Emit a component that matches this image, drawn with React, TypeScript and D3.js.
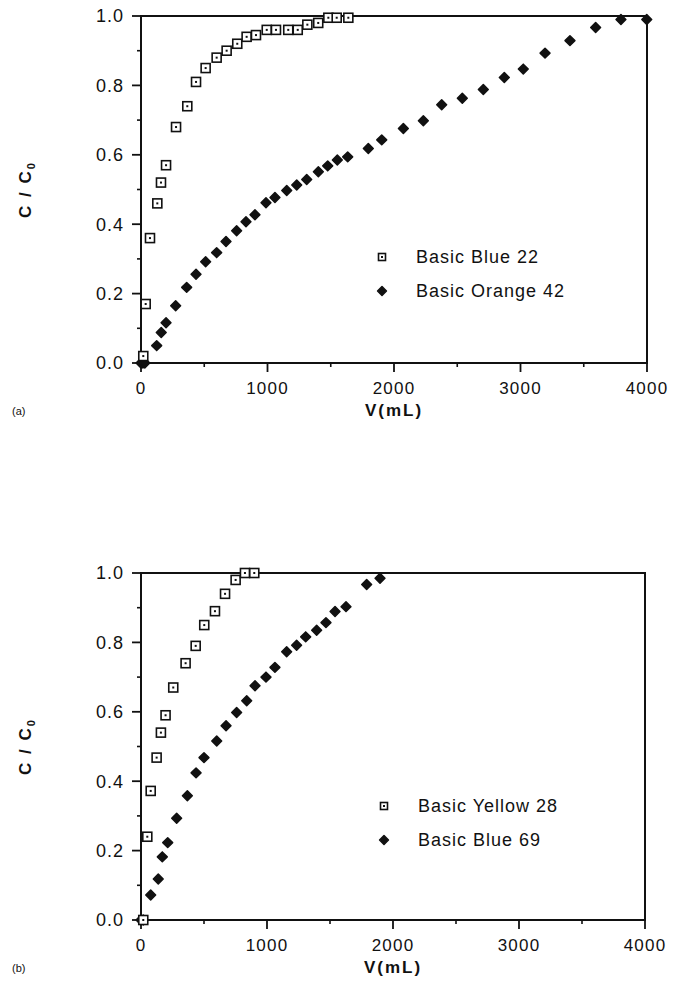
import React from "react";
import * as d3 from "d3";

// ---- Data (a) ----
const blue22V = [18, 37, 71, 129, 158, 198, 277, 366, 435, 511, 598, 677, 761, 835, 909, 994, 1067, 1164, 1239, 1315, 1401, 1481, 1547, 1639];
const blue22C = [0.02, 0.17, 0.36, 0.46, 0.52, 0.57, 0.68, 0.74, 0.81, 0.85, 0.88, 0.9, 0.92, 0.94, 0.945, 0.96, 0.96, 0.96, 0.96, 0.975, 0.98, 0.995, 0.995, 0.995];
const orange42V = [0, 15, 30, 124, 160, 198, 274, 361, 435, 511, 598, 672, 756, 830, 901, 988, 1059, 1152, 1231, 1310, 1402, 1476, 1552, 1634, 1797, 1903, 2074, 2232, 2377, 2540, 2706, 2872, 3022, 3194, 3391, 3594, 3794, 3998];
const orange42C = [0, 0, 0, 0.05, 0.088, 0.116, 0.165, 0.218, 0.256, 0.292, 0.318, 0.35, 0.381, 0.407, 0.427, 0.462, 0.477, 0.497, 0.513, 0.529, 0.551, 0.568, 0.585, 0.594, 0.618, 0.643, 0.676, 0.698, 0.744, 0.763, 0.788, 0.823, 0.847, 0.893, 0.929, 0.967, 0.99, 0.99];

// ---- Data (b) ----
const yellow28V = [18, 50, 77, 124, 158, 195, 256, 354, 434, 502, 587, 667, 751, 825, 899];
const yellow28C = [0, 0.24, 0.372, 0.468, 0.54, 0.59, 0.67, 0.74, 0.79, 0.85, 0.89, 0.94, 0.98, 1.0, 1.0];
const blue69V = [0, 18, 77, 137, 169, 212, 283, 368, 437, 500, 601, 675, 759, 839, 905, 992, 1063, 1156, 1235, 1307, 1394, 1468, 1540, 1627, 1791, 1897];
const blue69C = [0, 0, 0.072, 0.118, 0.182, 0.223, 0.293, 0.358, 0.424, 0.468, 0.516, 0.56, 0.598, 0.632, 0.675, 0.7, 0.728, 0.773, 0.792, 0.816, 0.835, 0.857, 0.889, 0.903, 0.967, 0.985];

const xMajor = [0, 1000, 2000, 3000, 4000];
const xMinor = [500, 1500, 2500, 3500];
const yMajor = [0, 0.2, 0.4, 0.6, 0.8, 1.0];
const yMinor = [0.1, 0.3, 0.5, 0.7, 0.9];

const FONT = "'Liberation Sans', Arial, Helvetica, sans-serif";
const INK = "#111";

type Panel = {
  tag: string;
  x0: number; x1: number; yTop: number; yBot: number;
  sq: { v: number[]; c: number[]; name: string };
  di: { v: number[]; c: number[]; name: string };
  legX: number; legY: number;
};

function Square({ x, y, s }: { x: number; y: number; s: number }) {
  return (
    <g>
      <rect x={x - s / 2} y={y - s / 2} width={s} height={s} fill="#fff" stroke={INK} strokeWidth={1.6} />
      <rect x={x - 1} y={y - 1} width={2} height={2} fill={INK} />
    </g>
  );
}

function Diamond({ x, y, s }: { x: number; y: number; s: number }) {
  const sym = d3.symbol().type(d3.symbolDiamond2).size(s * s * 0.62)();
  return <path d={sym || ""} transform={`translate(${x},${y})`} fill={INK} stroke={INK} strokeWidth={1.5} strokeLinejoin="round" />;
}

function PanelChart({ p }: { p: Panel }) {
  const x = d3.scaleLinear().domain([0, 4000]).range([p.x0, p.x1]);
  const y = d3.scaleLinear().domain([0, 1]).range([p.yBot, p.yTop]);
  const midY = (p.yTop + p.yBot) / 2;
  return (
    <g>
      <rect x={p.x0} y={p.yTop} width={p.x1 - p.x0} height={p.yBot - p.yTop} fill="none" stroke={INK} strokeWidth={2} />
      {yMajor.map((t) => (
        <g key={"ym" + t}>
          <line x1={p.x0 - 9} x2={p.x0} y1={y(t)} y2={y(t)} stroke={INK} strokeWidth={1.8} />
          <text x={p.x0 - 17} y={y(t)} dy="0.36em" textAnchor="end" fontFamily={FONT} fontSize={18} letterSpacing={1} fill={INK}>
            {d3.format(".1f")(t)}
          </text>
        </g>
      ))}
      {yMinor.map((t) => (
        <line key={"yn" + t} x1={p.x0 - 4} x2={p.x0} y1={y(t)} y2={y(t)} stroke={INK} strokeWidth={1.6} />
      ))}
      {xMajor.map((t) => (
        <g key={"xm" + t}>
          <line x1={x(t)} x2={x(t)} y1={p.yBot} y2={p.yBot + 9} stroke={INK} strokeWidth={1.8} />
          <text x={x(t)} y={p.yBot + 25} dy="0.36em" textAnchor="middle" fontFamily={FONT} fontSize={17} letterSpacing={1.2} fill={INK}>
            {t}
          </text>
        </g>
      ))}
      {xMinor.map((t) => (
        <line key={"xn" + t} x1={x(t)} x2={x(t)} y1={p.yBot} y2={p.yBot + 4} stroke={INK} strokeWidth={1.6} />
      ))}
      <text x={(p.x0 + p.x1) / 2} y={p.yBot + 47} dy="0.36em" textAnchor="middle" fontFamily={FONT} fontSize={17} fontWeight="bold" letterSpacing={2} fill={INK}>
        V(mL)
      </text>
      <text transform={`translate(31,${midY}) rotate(-90)`} textAnchor="middle" fontFamily={FONT} fontSize={17} fontWeight="bold" letterSpacing={2} fill={INK}>
        C / C<tspan fontSize={11} dy={4}>0</tspan>
      </text>
      <text x={12} y={p.yBot + 48} dy="0.36em" fontFamily={FONT} fontSize={11} fill={INK}>
        {p.tag}
      </text>
      {p.di.v.map((v, i) => (
        <Diamond key={"d" + i} x={x(v)} y={y(p.di.c[i])} s={10} />
      ))}
      {p.sq.v.map((v, i) => (
        <Square key={"s" + i} x={x(v)} y={y(p.sq.c[i])} s={9} />
      ))}
      <Square x={p.legX} y={p.legY} s={7} />
      <text x={p.legX + 34} y={p.legY} dy="0.36em" fontFamily={FONT} fontSize={18} letterSpacing={1} fill={INK}>
        {p.sq.name}
      </text>
      <Diamond x={p.legX} y={p.legY + 34} s={9} />
      <text x={p.legX + 34} y={p.legY + 34} dy="0.36em" fontFamily={FONT} fontSize={18} letterSpacing={1} fill={INK}>
        {p.di.name}
      </text>
    </g>
  );
}

const panels: Panel[] = [
  {
    tag: "(a)", x0: 141, x1: 647, yTop: 16, yBot: 363,
    sq: { v: blue22V, c: blue22C, name: "Basic Blue 22" },
    di: { v: orange42V, c: orange42C, name: "Basic Orange 42" },
    legX: 382, legY: 257,
  },
  {
    tag: "(b)", x0: 141, x1: 645, yTop: 573, yBot: 920,
    sq: { v: yellow28V, c: yellow28C, name: "Basic Yellow 28" },
    di: { v: blue69V, c: blue69C, name: "Basic Blue 69" },
    legX: 384, legY: 806,
  },
];

export default function App() {
  return (
    <svg width={676} height={997} style={{ position: "absolute", left: 0, top: 0, background: "#fff" }}>
      <rect width={676} height={997} fill="#fff" />
      {panels.map((p) => (
        <PanelChart key={p.tag} p={p} />
      ))}
    </svg>
  );
}
